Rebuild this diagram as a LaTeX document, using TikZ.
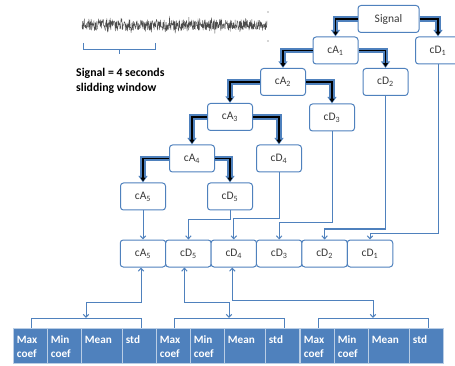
\documentclass[tikz,border=0pt]{standalone}
\usepackage{fontspec}
\setmainfont{Carlito}
\usetikzlibrary{arrows.meta,calc}
\definecolor{boxblue}{HTML}{4F81BD}
\definecolor{linkblue}{HTML}{4F81BD}
\definecolor{featblue}{HTML}{4F81BD}
\definecolor{featedge}{HTML}{B9CDE5}
\definecolor{labelgray}{HTML}{3A3A3A}
\newcommand{\lvl}[1]{\textsubscript{#1}}
\newcommand{\ftop}{\rule{0pt}{10pt}}

\begin{document}
\begin{tikzpicture}[x=1pt,y=-1pt,
  font=\fontsize{11.5}{13}\selectfont,
  wbox/.style={draw=boxblue, line width=1pt, rounded corners=3pt, fill=white,
    minimum width=45pt, minimum height=27pt, inner sep=0pt, text=labelgray},
  thickarr/.style={draw=black, line width=1.9pt, shorten >=1.1pt,
    -{Triangle[length=3.8pt,width=4.8pt]},
    preaction={draw=boxblue, line width=5.2pt, shorten >=0pt,
      -{Triangle[length=6.6pt,width=8.8pt]}}},
  link/.style={draw=linkblue, line width=1pt,
    -{Straight Barb[length=3pt,width=5.5pt]}},
  bilink/.style={draw=linkblue, line width=1pt,
    {Straight Barb[length=3pt,width=5.5pt]}-{Straight Barb[length=3pt,width=5.5pt]}},
  brack/.style={draw=linkblue, line width=1pt},
  featbox/.style={fill=featblue, draw=featedge, line width=0.8pt,
    anchor=north west, minimum height=35pt, inner xsep=3.5pt, inner ysep=0pt,
    align=left, text=white, font=\fontsize{11.2}{14}\selectfont\bfseries}]

\useasboundingbox (0,0) rectangle (455,366);

% --- raw EEG trace with its 4 s window brace ---
\pgfmathsetseed{12}
\draw[black!70, line width=0.4pt, line join=round]
  plot[domain=82:267, samples=650] (\x,{25+5.5*rand+7*rand*rand*rand});
\fill[black!70] (268,12) circle (0.7);
\fill[black!70] (268,41) circle (0.7);
\draw[brack] (83,43) -- (83,50) -- (155,50) -- (155,43) (119,50) -- (119,54);
\node[anchor=north west, inner sep=0pt, align=left,
  font=\fontsize{11.8}{15}\selectfont\bfseries] (caption) at (76,68)
  {Signal = 4 seconds\\slidding window};

% --- five-level wavelet decomposition tree ---
\node[wbox, minimum width=61pt] (sig) at (388.5,19) {Signal};
\node[wbox] (a1) at (335.5,50.5) {cA\lvl{1}};
\node[wbox] (d1) at (438,50.5) {cD\lvl{1}};
\node[wbox] (a2) at (283,82) {cA\lvl{2}};
\node[wbox] (d2) at (385.5,82) {cD\lvl{2}};
\node[wbox] (a3) at (230,117) {cA\lvl{3}};
\node[wbox] (d3) at (332,117.5) {cD\lvl{3}};
\node[wbox] (a4) at (192,158.5) {cA\lvl{4}};
\node[wbox] (d4) at (279,158.5) {cD\lvl{4}};
\node[wbox] (a5) at (143,196.5) {cA\lvl{5}};
\node[wbox] (d5) at (230,196.5) {cD\lvl{5}};

\draw[thickarr] (sig.west) -| (a1.north);
\draw[thickarr] (sig.east) -| (d1.north);
\draw[thickarr] (a1.west) -| (a2.north);
\draw[thickarr] (a1.east) -| (d2.north);
\draw[thickarr] (a2.west) -| (a3.north);
\draw[thickarr] (a2.east) -| (d3.north);
\draw[thickarr] (a3.west) -| (a4.north);
\draw[thickarr] (a3.east) -| (d4.north);
\draw[thickarr] (a4.west) -| (a5.north);
\draw[thickarr] (a4.east) -| (d5.north);

% --- coefficient vector ---
\node[wbox, minimum width=45.5pt] (ra5) at (143,253.5) {cA\lvl{5}};
\node[wbox, minimum width=45.5pt] (rd5) at (188.4,253.5) {cD\lvl{5}};
\node[wbox, minimum width=45.5pt] (rd4) at (233.8,253.5) {cD\lvl{4}};
\node[wbox, minimum width=45.5pt] (rd3) at (279.2,253.5) {cD\lvl{3}};
\node[wbox, minimum width=45.5pt] (rd2) at (324.6,253.5) {cD\lvl{2}};
\node[wbox, minimum width=45.5pt] (rd1) at (370,253.5) {cD\lvl{1}};

\draw[link] (a5.south) -- (ra5.north);
\draw[link] (d5.south) -- (d5.south |- 0,219.5) -| (rd5.north);
\draw[link] (d4.south) -- (d4.south |- 0,219) -| (rd4.north);
\draw[link] (d3.south) -- (d3.south |- 0,222.5) -| (rd3.north);
\draw[link] (d2.south) -- (d2.south |- 0,229) -| (rd2.north);
\draw[link] (d1.south) -- (d1.south |- 0,233) -| (rd1.north);

% --- statistical features per coefficient ---
\foreach \g/\off in {1/13,2/156,3/300}{
  \node[featbox, text width=27pt] (f\g-1) at (\off,328) {\ftop Max\\coef};
  \node[featbox, text width=27pt] (f\g-2) at (\off+34,328) {\ftop Min\\coef};
  \node[featbox, text width=34pt] (f\g-3) at (\off+68,328) {\ftop Mean\\\mbox{}};
  \node[featbox, text width=27pt] (f\g-4) at (\off+109,328) {\ftop std\\\mbox{}};
  \draw[brack] (\off+18,328) -- (\off+18,318) -- (\off+128,318) -- (\off+128,328);
  \coordinate (m\g) at (\off+73,318);
}

\draw[bilink] ([xshift=-2pt]ra5.south) -- ([xshift=-2pt]ra5.south |- 0,302) -| (m1);
\draw[bilink] ([xshift=-4pt]rd5.south) -- ([xshift=-4pt]rd5.south |- 0,302) -| (m2);
\draw[bilink] ([xshift=-1.5pt]rd4.south) -- ([xshift=-1.5pt]rd4.south |- 0,300) -| (m3);

\end{tikzpicture}
\end{document}
